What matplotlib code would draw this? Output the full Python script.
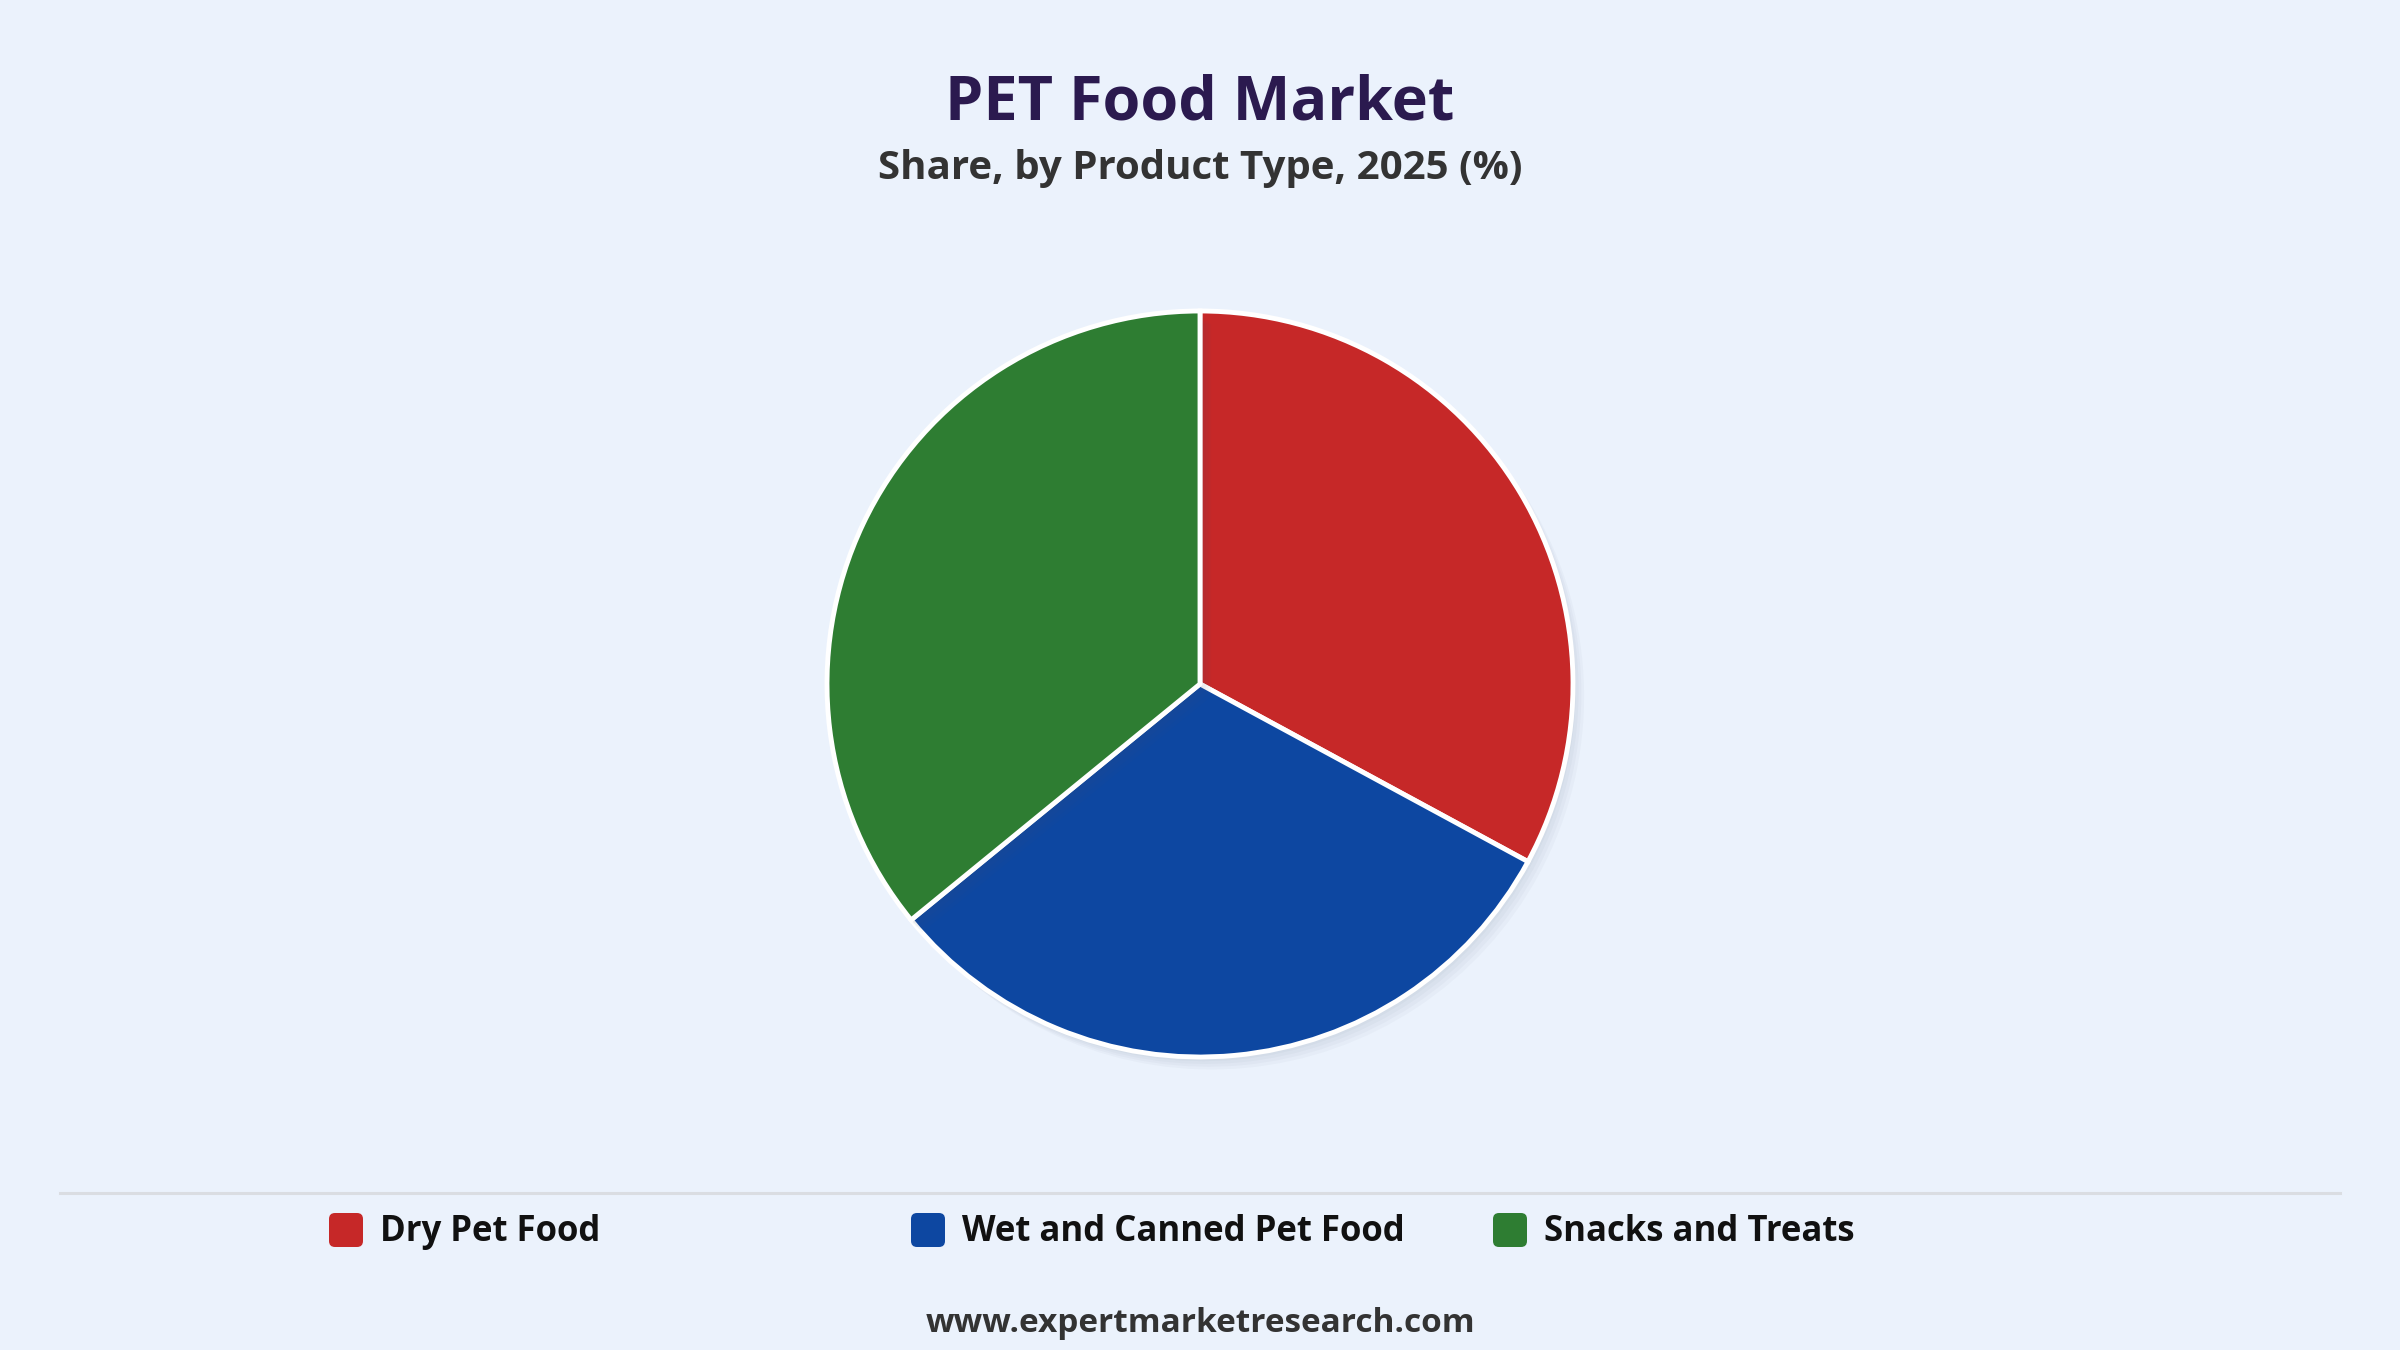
import matplotlib.pyplot as plt
from matplotlib.patches import FancyBboxPatch
import matplotlib.patheffects as pe

plt.rcParams['font.family'] = ['Open Sans', 'DejaVu Sans']

categories = ['Dry Pet Food', 'Wet and Canned Pet Food', 'Snacks and Treats']
shares = [32.9, 31.2, 35.9]
colors = ['#C62828', '#0D47A1', '#2E7D32']

bg = '#EBF2FC'
W, H = 2400, 1350

fig = plt.figure(figsize=(24, 13.5), dpi=100, facecolor=bg)

# overlay in pixel units for text, separator and legend
over = fig.add_axes([0, 0, 1, 1])
over.set_xlim(0, W)
over.set_ylim(0, H)
over.axis('off')
over.set_facecolor('none')

# pie axes: centre (1200, 684 from top), radius 373 px
r = 373
cx, cy = 1200, H - 684
ax = fig.add_axes([(cx - r) / W, (cy - r) / H, 2 * r / W, 2 * r / H])
ax.set_facecolor('none')

# soft shadow: a few offset layers
shadow = [pe.SimplePatchShadow(offset=(k, -k - 1), alpha=0.035, shadow_rgbFace='#4a5a70')
          for k in (2, 4, 6, 8)]
wedges, _ = ax.pie(shares, colors=colors, startangle=90, counterclock=False,
                   wedgeprops=dict(edgecolor='white', linewidth=3.5,
                                   path_effects=shadow + [pe.Normal()]))
ax.set_xlim(-1, 1)
ax.set_ylim(-1, 1)
ax.set_aspect('equal')
ax.axis('off')

over.text(W / 2, H - 104, 'PET Food Market', ha='center', va='center',
          fontsize=44, fontweight='bold', color='#2B1A4F')
over.text(W / 2, H - 169, 'Share, by Product Type, 2025 (%)', ha='center', va='center',
          fontsize=29, fontweight='bold', color='#333333')

# separator
over.plot([60, 2340], [H - 1193, H - 1193], color='#DADDE2', lw=2.2)

# legend
leg_y = H - 1230
for i, (name, c) in enumerate(zip(categories, colors)):
    x0 = 329 + i * 582
    over.add_patch(FancyBboxPatch((x0, leg_y - 17), 34, 34,
                                  boxstyle='round,pad=0,rounding_size=6',
                                  facecolor=c, edgecolor='none'))
    over.text(x0 + 51, leg_y - 2, name, ha='left', va='center',
              fontsize=25, fontweight='bold', color='#111111')

over.text(W / 2, 27, 'www.expertmarketresearch.com', ha='center', va='center',
          fontsize=24, fontweight='bold', color='#333333')

fig.savefig('out.png', dpi=100, facecolor=bg)
